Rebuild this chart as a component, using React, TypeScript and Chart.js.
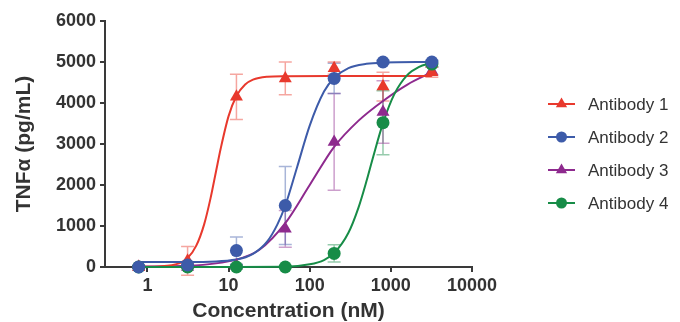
import React, { useEffect, useRef } from "react";
import { Chart, registerables } from "chart.js";

Chart.register(...registerables);

// ---------- data ----------
const concentrations = [0.78, 3.125, 12.5, 50, 200, 800, 3200];
const seriesNames = ["Antibody 1", "Antibody 2", "Antibody 3", "Antibody 4"];

const ab1Mean = [0, 150, 4150, 4600, 4850, 4400, 4750];
const ab1Sd = [30, 350, 550, 400, 150, 350, 120];
const ab2Mean = [0, 50, 400, 1500, 4600, 5000, 5000];
const ab2Sd = [30, 40, 330, 950, 370, 40, 40];
const ab3Mean = [0, 0, 30, 930, 3050, 3780, 4780];
const ab3Sd = [20, 20, 30, 450, 1180, 760, 100];
const ab4Mean = [0, 0, 0, 0, 330, 3520, 4950];
const ab4Sd = [20, 20, 20, 20, 210, 780, 60];

// fitted curves
const curve1Conc = [0.78, 2, 3.125, 4, 5, 6, 7, 8, 10, 12.5, 16, 20, 30, 50, 200, 800, 3200];
const curve1Values = [0, 45, 220, 520, 1040, 1680, 2330, 2890, 3680, 4170, 4450, 4570, 4640, 4655, 4660, 4660, 4660];
const curve2Conc = [0.78, 3.125, 12.5, 20, 30, 40, 50, 70, 100, 150, 200, 300, 500, 800, 3200];
const curve2Values = [120, 120, 185, 320, 625, 1040, 1500, 2440, 3450, 4280, 4610, 4850, 4955, 4985, 5000];
const curve3Conc = [0.78, 3.125, 12.5, 24, 50, 100, 200, 400, 800, 1600, 3200];
const curve3Values = [10, 30, 180, 420, 1070, 2000, 2930, 3570, 4050, 4450, 4750];
const curve4Conc = [0.78, 3.125, 12.5, 50, 100, 150, 200, 300, 400, 500, 600, 800, 1100, 1600, 2200, 3200];
const curve4Values = [0, 0, 0, 5, 65, 170, 340, 835, 1455, 2090, 2660, 3510, 4210, 4685, 4875, 4980];

const xTickValues = [1, 10, 100, 1000, 10000];
const yTickValues = [0, 1000, 2000, 3000, 4000, 5000, 6000];
const xAxisTitle = "Concentration (nM)";
const yAxisTitle = "TNFα (pg/mL)";

// ---------- styling ----------
const FONT = "'Liberation Sans', Arial, Helvetica, sans-serif";
const TEXT = "#333333";
const AXIS = "#3a3a3a";

const styles = [
  { color: "#E8392D", pale: "rgba(232,57,45,0.45)", point: "triangle", radius: 7.5, order: 3 },
  { color: "#3D5BA9", pale: "rgba(61,91,169,0.45)", point: "circle", radius: 6.5, order: 1 },
  { color: "#8E2A8E", pale: "rgba(142,42,142,0.45)", point: "triangle", radius: 7.5, order: 4 },
  { color: "#178C47", pale: "rgba(23,140,71,0.45)", point: "circle", radius: 6.5, order: 2 },
];

const means = [ab1Mean, ab2Mean, ab3Mean, ab4Mean];
const sds = [ab1Sd, ab2Sd, ab3Sd, ab4Sd];
const curveConcs = [curve1Conc, curve2Conc, curve3Conc, curve4Conc];
const curveValues = [curve1Values, curve2Values, curve3Values, curve4Values];

function drawMarker(ctx: CanvasRenderingContext2D, kind: string, x: number, y: number, r: number) {
  ctx.beginPath();
  if (kind === "circle") {
    ctx.arc(x, y, r, 0, Math.PI * 2);
  } else {
    let a = 0;
    ctx.moveTo(x + Math.sin(a) * r, y - Math.cos(a) * r);
    a += (2 * Math.PI) / 3;
    ctx.lineTo(x + Math.sin(a) * r, y - Math.cos(a) * r);
    a += (2 * Math.PI) / 3;
    ctx.lineTo(x + Math.sin(a) * r, y - Math.cos(a) * r);
    ctx.closePath();
  }
  ctx.fill();
}

const errorBarPlugin = {
  id: "errorBars",
  beforeDatasetsDraw(chart: any) {
    const { ctx, scales } = chart;
    const xs = scales.x;
    const ys = scales.y;
    ctx.save();
    ctx.lineWidth = 1.5;
    for (let s = 3; s >= 0; s--) {
      ctx.strokeStyle = styles[s].pale;
      means[s].forEach((v, i) => {
        const err = sds[s][i];
        const px = xs.getPixelForValue(concentrations[i]);
        const pt = ys.getPixelForValue(v + err);
        const pb = ys.getPixelForValue(v - err);
        const cap = 6.5;
        ctx.beginPath();
        ctx.moveTo(px, pt);
        ctx.lineTo(px, pb);
        ctx.moveTo(px - cap, pt);
        ctx.lineTo(px + cap, pt);
        ctx.moveTo(px - cap, pb);
        ctx.lineTo(px + cap, pb);
        ctx.stroke();
      });
    }
    ctx.restore();
  },
};

const legendPlugin = {
  id: "sideLegend",
  afterDraw(chart: any) {
    const { ctx } = chart;
    ctx.save();
    const rows = [104, 137, 170, 203];
    seriesNames.forEach((name, i) => {
      const st = styles[i];
      const y = rows[i];
      ctx.strokeStyle = st.color;
      ctx.lineWidth = 2;
      ctx.beginPath();
      ctx.moveTo(548, y);
      ctx.lineTo(575, y);
      ctx.stroke();
      ctx.fillStyle = st.color;
      drawMarker(ctx, st.point, 561.5, y, st.radius - 1);
      ctx.fillStyle = TEXT;
      ctx.font = `17px ${FONT}`;
      ctx.textBaseline = "middle";
      ctx.textAlign = "left";
      ctx.fillText(name, 588, y + 1);
    });
    ctx.restore();
  },
};

export default function App() {
  const canvasRef = useRef<HTMLCanvasElement | null>(null);

  useEffect(() => {
    if (!canvasRef.current) return;
    const datasets: any[] = [];
    seriesNames.forEach((name, s) => {
      const st = styles[s];
      datasets.push({
        label: name,
        data: concentrations.map((c, i) => ({ x: c, y: means[s][i] })),
        showLine: false,
        pointStyle: st.point,
        pointRadius: st.radius,
        pointBackgroundColor: st.color,
        pointBorderColor: st.color,
        pointBorderWidth: 0,
        order: st.order,
        clip: false,
      });
      datasets.push({
        label: name + " fit",
        data: curveConcs[s].map((c, i) => ({ x: c, y: curveValues[s][i] })),
        showLine: true,
        borderColor: st.color,
        borderWidth: 2,
        pointRadius: 0,
        cubicInterpolationMode: "monotone",
        order: 5 + st.order,
        clip: false,
      });
    });

    const chart = new Chart(canvasRef.current, {
      type: "scatter",
      data: { datasets },
      plugins: [errorBarPlugin, legendPlugin],
      options: {
        responsive: false,
        animation: false,
        devicePixelRatio: 1,
        events: [],
        layout: { padding: { left: 0, right: 208, top: 21, bottom: 0 } },
        plugins: { legend: { display: false }, tooltip: { enabled: false } },
        scales: {
          x: {
            type: "logarithmic",
            min: 0.304,
            max: 10000,
            afterFit: (scale: any) => {
              scale.height = 55;
            },
            afterBuildTicks: (scale: any) => {
              scale.ticks = xTickValues.map((v) => ({ value: v, major: true }));
            },
            ticks: {
              autoSkip: false,
              maxRotation: 0,
              padding: 3,
              color: TEXT,
              font: { family: FONT, size: 18, weight: "bold" },
              callback: (v: any) => String(v),
            },
            grid: {
              drawOnChartArea: false,
              drawTicks: true,
              tickLength: 5,
              color: AXIS,
              lineWidth: 2,
            },
            border: { display: true, color: AXIS, width: 2 },
            title: {
              display: true,
              text: xAxisTitle,
              color: TEXT,
              font: { family: FONT, size: 21, weight: "bold" },
              padding: { top: 0, bottom: -2 },
            },
          },
          y: {
            type: "linear",
            min: 0,
            max: 6000,
            afterFit: (scale: any) => {
              scale.width = 105;
            },
            afterBuildTicks: (scale: any) => {
              scale.ticks = yTickValues.map((v) => ({ value: v }));
            },
            ticks: {
              padding: 4,
              color: TEXT,
              font: { family: FONT, size: 18, weight: "bold" },
              callback: (v: any) => String(v),
            },
            grid: {
              drawOnChartArea: false,
              drawTicks: true,
              tickLength: 5,
              color: AXIS,
              lineWidth: 2,
            },
            border: { display: true, color: AXIS, width: 2 },
            title: {
              display: true,
              text: yAxisTitle,
              color: TEXT,
              font: { family: FONT, size: 21, weight: "bold" },
              padding: { top: 12, bottom: 0 },
            },
          },
        },
      },
    } as any);
    return () => chart.destroy();
  }, []);

  return (
    <div style={{ position: "absolute", left: 0, top: 0, width: 680, height: 322, background: "#fff" }}>
      <canvas ref={canvasRef} width={680} height={322} style={{ display: "block" }} />
    </div>
  );
}
